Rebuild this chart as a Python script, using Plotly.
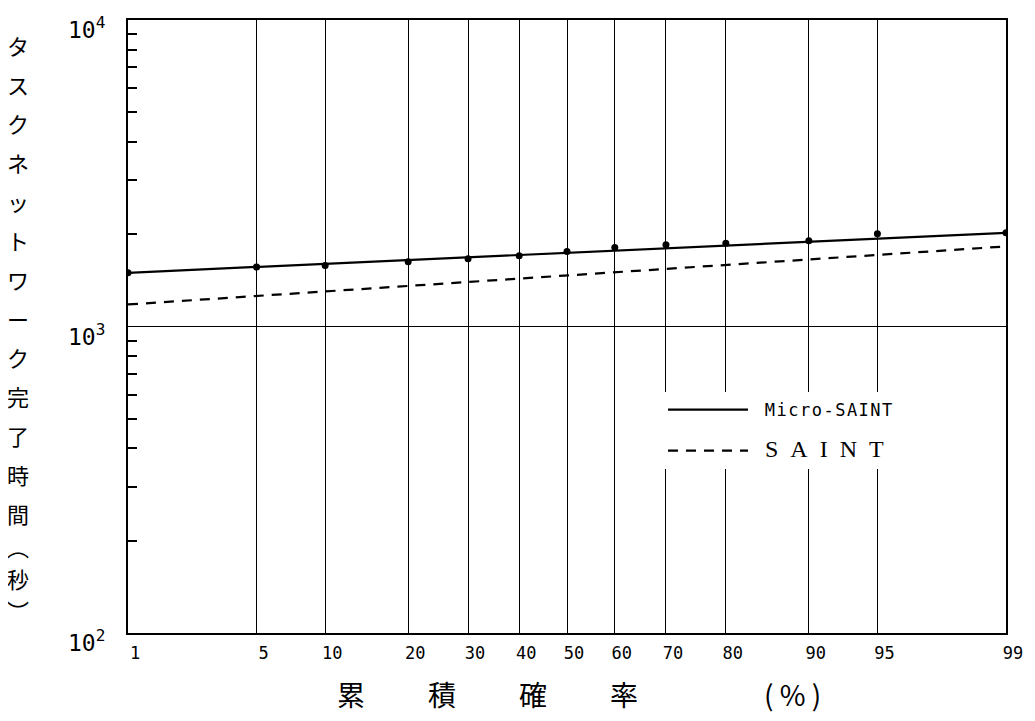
import plotly.graph_objects as go
from statistics import NormalDist

# ---------------- data ----------------
prob_ticks = [1, 5, 10, 20, 30, 40, 50, 60, 70, 80, 90, 95, 99]
prob_labels = ["1", "5", "10", "20", "30", "40", "50", "60", "70", "80", "90", "95", "99"]

# Micro-SAINT observed points (seconds)
micro_prob = [1, 5, 10, 20, 30, 40, 50, 60, 70, 80, 90, 95, 99]
micro_time = [1497, 1563, 1581, 1625, 1665, 1702, 1756, 1811, 1847, 1869, 1906, 2007, 2021]
# Micro-SAINT fitted line
micro_fit_prob = [1, 99]
micro_fit_time = [1497, 2021]
# SAINT fitted line
saint_prob = [1, 99]
saint_time = [1180, 1825]

y_tickvals = [100, 1000, 10000]
y_ticktext = ["10<sup>2</sup>", "10<sup>3</sup>", "10<sup>4</sup>"]
y_minor = [200, 300, 400, 500, 600, 700, 800, 900,
           2000, 3000, 4000, 5000, 6000, 7000, 8000, 9000]

y_title_main = "タスクネットワーク完了時間"
y_title_unit = ["︵", "秒", "︶"]
x_title = "累\u3000\u3000\u2005積\u3000\u3000\u2005確\u3000\u3000\u2005率\u3000\u3000\u3000\u3000\u2002( % )"

# ---------------- layout geometry (page pixels) ----------------
OFF = 8                      # default body margin of the html page
PAGE_W, PAGE_H = 1035, 721
P_LEFT, P_RIGHT, P_TOP, P_BOTTOM = 128, 1006, 20, 633
W, H = PAGE_W - OFF, PAGE_H - OFF
L = P_LEFT - OFF
T = P_TOP - OFF
R = W - L - (P_RIGHT - P_LEFT)
B = H - T - (P_BOTTOM - P_TOP)
plot_w = P_RIGHT - P_LEFT
plot_h = P_BOTTOM - P_TOP

nd = NormalDist()


def probit(p):
    return nd.inv_cdf(p / 100.0)


def py(px):
    return (P_BOTTOM - px) / plot_h


def pxx(px):
    return (px - P_LEFT) / plot_w


fig = go.Figure()

fig.add_trace(go.Scatter(
    x=[probit(p) for p in micro_fit_prob], y=micro_fit_time, mode="lines",
    line=dict(color="black", width=2.2),
    name='<span style="font-family:DejaVu Sans Mono;font-size:17px;letter-spacing:1.5px">\u00a0Micro-SAINT</span>',
    legendgroup="a",
))
fig.add_trace(go.Scatter(
    x=[probit(p) for p in micro_prob], y=micro_time, mode="markers",
    marker=dict(color="black", size=7), showlegend=False, legendgroup="a",
))
fig.add_trace(go.Scatter(
    x=[probit(p) for p in saint_prob], y=saint_time, mode="lines",
    line=dict(color="black", width=2.2, dash="10px,8px"),
    name='<span style="font-family:Liberation Serif;font-size:24px">\u2002S\u2002A\u2002I\u2002N\u2002T</span>',
    legendgroup="b",
))

fig.update_xaxes(
    range=[probit(1), probit(99)], automargin=False,
    tickmode="array", tickvals=[probit(p) for p in prob_ticks], ticktext=prob_labels,
    showgrid=True, gridcolor="black", gridwidth=1.2,
    showline=True, linecolor="black", linewidth=2, mirror=True,
    ticks="", zeroline=False,
    tickfont=dict(family="DejaVu Sans Mono", size=17, color="black"),
    ticklabelshift=7, ticklabelstandoff=4,
)
fig.update_yaxes(
    type="log", range=[2, 4], automargin=False,
    tickmode="array", tickvals=y_tickvals, ticktext=y_ticktext,
    showgrid=True, gridcolor="black", gridwidth=1.3,
    showline=True, linecolor="black", linewidth=2, mirror=True,
    ticks="", zeroline=False,
    tickfont=dict(family="DejaVu Sans Mono", size=23, color="black"),
    ticklabelstandoff=16, ticklabelshift=10,
    minor=dict(tickmode="array", tickvals=y_minor, ticks="inside",
               ticklen=9, tickwidth=2, tickcolor="black", showgrid=False),
)

annotations = []
for i, ch in enumerate(y_title_main):
    annotations.append(dict(
        text=ch, x=pxx(18), y=py(45 + i * 39), xref="paper", yref="paper",
        showarrow=False, font=dict(family="Noto Sans CJK JP", size=22, color="black"),
        xanchor="center", yanchor="middle"))
for ch, ypx in zip(y_title_unit, [546, 578, 610]):
    annotations.append(dict(
        text=ch, x=pxx(18), y=py(ypx), xref="paper", yref="paper",
        showarrow=False, font=dict(family="Noto Sans CJK JP", size=22, color="black"),
        xanchor="center", yanchor="middle"))
annotations.append(dict(
    text=x_title, x=pxx(335), y=py(694), xref="paper", yref="paper",
    showarrow=False, font=dict(family="Noto Sans CJK JP", size=28, color="black"),
    xanchor="left", yanchor="middle"))

fig.update_layout(
    width=W, height=H,
    margin=dict(l=L, r=R, t=T, b=B, autoexpand=False),
    paper_bgcolor="white", plot_bgcolor="white",
    showlegend=True,
    legend=dict(x=pxx(663), y=py(392), xanchor="left", yanchor="top",
                bgcolor="white", borderwidth=0, itemwidth=80,
                tracegroupgap=16, traceorder="grouped",
                font=dict(color="black", size=17)),
    annotations=annotations,
)

fig.write_html("out.html")
